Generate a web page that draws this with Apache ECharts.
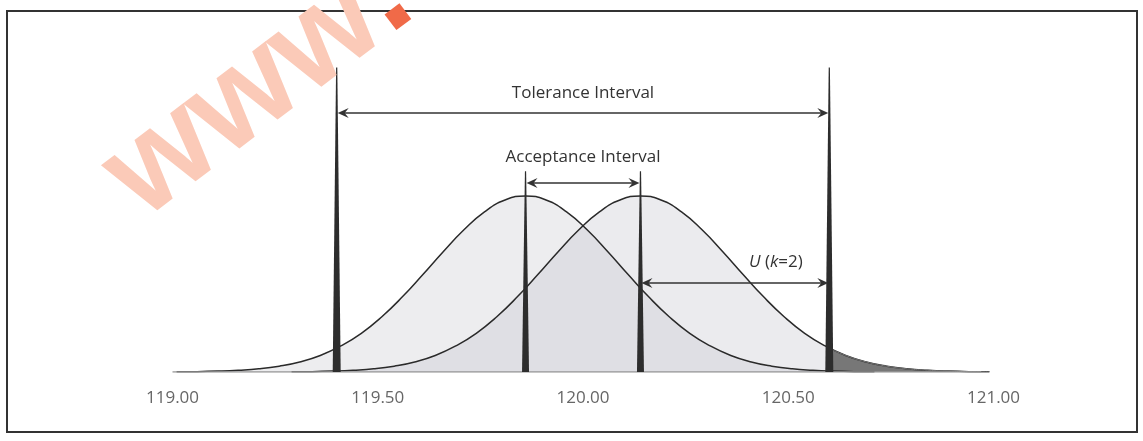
<!DOCTYPE html>
<html>
<head>
<meta charset="utf-8">
<script src="https://cdn.jsdelivr.net/npm/echarts@6/dist/echarts.min.js"></script>
<style>
  html, body { margin: 0; padding: 0; background: #fff; }
  #chart { width: 1143px; height: 441px; }
</style>
</head>
<body>
<div id="chart"></div>
<script>
const leftCurve = [
  [119.01, 0.001], [119.06, 0.002], [119.11, 0.005], [119.16, 0.010], [119.21, 0.018],
  [119.26, 0.033], [119.31, 0.057], [119.36, 0.094], [119.41, 0.148], [119.46, 0.220],
  [119.51, 0.314], [119.56, 0.427], [119.61, 0.554], [119.66, 0.685], [119.71, 0.808],
  [119.76, 0.910], [119.81, 0.977], [119.86, 1.000], [119.91, 0.977], [119.96, 0.910],
  [120.01, 0.808], [120.06, 0.685], [120.11, 0.554], [120.16, 0.427], [120.21, 0.314],
  [120.26, 0.220], [120.31, 0.148], [120.36, 0.094], [120.41, 0.057], [120.46, 0.033],
  [120.51, 0.018], [120.56, 0.010], [120.61, 0.005], [120.66, 0.002], [120.71, 0.001]
]
const rightCurve = [
  [119.29, 0.001], [119.34, 0.002], [119.39, 0.005], [119.44, 0.010], [119.49, 0.018],
  [119.54, 0.033], [119.59, 0.057], [119.64, 0.094], [119.69, 0.148], [119.74, 0.220],
  [119.79, 0.314], [119.84, 0.427], [119.89, 0.554], [119.94, 0.685], [119.99, 0.808],
  [120.04, 0.910], [120.09, 0.977], [120.14, 1.000], [120.19, 0.977], [120.24, 0.910],
  [120.29, 0.808], [120.34, 0.685], [120.39, 0.554], [120.44, 0.427], [120.49, 0.314],
  [120.54, 0.220], [120.59, 0.148], [120.64, 0.094], [120.69, 0.057], [120.74, 0.033],
  [120.79, 0.018], [120.84, 0.010], [120.89, 0.005], [120.94, 0.002], [120.99, 0.001]
]
// part of the right curve beyond the upper tolerance limit (dark tail)
const rightTail = [
  [120.60, 0.135], [120.64, 0.094], [120.69, 0.057], [120.74, 0.033], [120.79, 0.018],
  [120.84, 0.010], [120.89, 0.005], [120.94, 0.002], [120.99, 0.001]
]
const baseline = [[119.00, 0], [120.97, 0]]

// limit markers: [position, top height]
const toleranceSpikes = [[119.40, 1.73], [120.60, 1.73]]
const acceptanceSpikes = [[119.86, 1.14], [120.14, 1.14]]

// double arrows: [from, to, height]
const arrows = [[119.40, 120.60, 1.472], [119.86, 120.14, 1.074], [120.14, 120.60, 0.506]]

const labelTexts = ['Tolerance Interval', 'Acceptance Interval', '{i|U} ({i|k}=2)']
const labelPos = [[120.00, 1.585], [120.00, 1.222], [120.47, 0.625]]

const xMin = 119, xMax = 121, xStep = 0.5

const chart = echarts.init(document.getElementById('chart'))

const spikeRender = halfWidth => (params, api) => {
  const b = api.coord([api.value(0), 0])
  const t = api.coord([api.value(0), api.value(1)])
  return {
    type: 'polygon',
    shape: { points: [[b[0] - halfWidth, b[1]], [b[0] + halfWidth, b[1]], [t[0] + 0.6, t[1]], [t[0] - 0.6, t[1]]] },
    style: { fill: '#2d2d2d' }
  }
}

const head = (x, y, dir) => ({
  type: 'polygon',
  shape: { points: [[x, y], [x - dir * 11, y - 5], [x - dir * 7, y], [x - dir * 11, y + 5]] },
  style: { fill: '#333' }
})

chart.setOption({
  animation: false,
  grid: { left: 172.5, right: 149.5, top: 20, bottom: 69 },
  xAxis: {
    type: 'value', min: xMin, max: xMax, interval: xStep,
    axisLine: { show: false }, axisTick: { show: false }, splitLine: { show: false },
    axisLabel: {
      margin: 18, color: '#666', fontSize: 17, fontFamily: 'Open Sans',
      formatter: v => v.toFixed(2)
    }
  },
  yAxis: { type: 'value', min: 0, max: 2, show: false },
  series: [
    {
      type: 'line', data: leftCurve, smooth: true, symbol: 'none',
      lineStyle: { color: '#2a2a2a', width: 1.5 },
      areaStyle: { color: 'rgba(198,198,206,0.45)', origin: 'start' }
    },
    {
      type: 'line', data: rightCurve, smooth: true, symbol: 'none',
      lineStyle: { color: '#2a2a2a', width: 1.5 },
      areaStyle: { color: 'rgba(198,198,206,0.5)', origin: 'start' }
    },
    {
      type: 'line', data: rightTail, smooth: true, symbol: 'none',
      lineStyle: { color: '#777', width: 1 },
      areaStyle: { color: '#777', opacity: 1, origin: 'start' }
    },
    {
      type: 'line', data: baseline, symbol: 'none',
      lineStyle: { color: '#999', width: 1.6 }
    },
    { type: 'custom', data: toleranceSpikes, renderItem: spikeRender(4), z: 5 },
    { type: 'custom', data: acceptanceSpikes, renderItem: spikeRender(3.5), z: 5 },
    {
      type: 'custom', data: arrows, z: 6,
      renderItem: (params, api) => {
        const a = api.coord([api.value(0), api.value(2)])
        const b = api.coord([api.value(1), api.value(2)])
        return {
          type: 'group',
          children: [
            { type: 'line', shape: { x1: a[0] + 4, y1: a[1], x2: b[0] - 4, y2: b[1] }, style: { stroke: '#333', lineWidth: 1.6 } },
            head(a[0] + 1, a[1], -1),
            head(b[0] - 1, b[1], 1)
          ]
        }
      }
    },
    {
      type: 'custom', data: labelPos, z: 7,
      renderItem: (params, api) => {
        const p = api.coord([api.value(0), api.value(1)])
        return {
          type: 'text', x: p[0], y: p[1],
          style: {
            text: labelTexts[params.dataIndex],
            fill: '#333', fontSize: 17, fontFamily: 'Open Sans',
            align: 'center', verticalAlign: 'middle',
            rich: { i: { fontStyle: 'italic', fontSize: 17, fontFamily: 'Open Sans', fill: '#333' } }
          }
        }
      }
    }
  ],
  graphic: [
    {
      type: 'rect', z: 1, silent: true,
      shape: { x: 7, y: 11, width: 1130, height: 421 },
      style: { fill: 'none', stroke: '#333', lineWidth: 2 }
    },
    {
      type: 'text', z: 100, silent: true,
      x: 259, y: 88, rotation: 37 * Math.PI / 180,
      style: {
        text: '{w|www}{d|.}',
        align: 'center', verticalAlign: 'middle',
        rich: {
          w: { font: 'bold 132px "Liberation Sans"', fill: '#fbcab8' },
          d: { font: 'bold 132px "Liberation Sans"', fill: '#f06a48' }
        }
      }
    }
  ]
})
</script>
</body>
</html>
